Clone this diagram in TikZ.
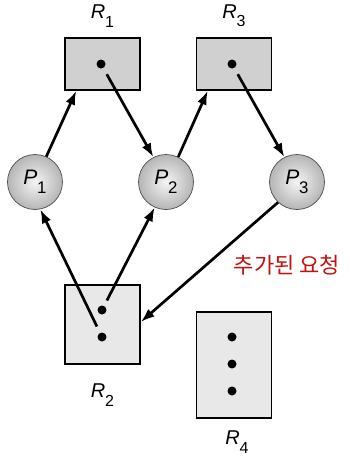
\documentclass[tikz,border=0pt]{standalone}
\usepackage{fontspec}
\setmainfont{Liberation Sans}
\newfontfamily\krfont{Noto Sans CJK KR}
\usepackage{tikz}
\usetikzlibrary{positioning,arrows.meta}
\definecolor{resdark}{HTML}{D0D0D0}
\definecolor{reslight}{HTML}{E8E8E8}
\definecolor{reqred}{HTML}{C41010}
\newcommand{\idx}[2]{{\itshape #1}\kern-0.3pt\raisebox{-0.8ex}{\scalebox{0.8}{#2}}}
\tikzset{
  res/.style={rectangle,draw,line width=1.5pt,minimum width=75pt,minimum height=52pt,
    inner sep=0pt,fill=resdark},
  inst/.style={circle,fill=black,inner sep=0pt,minimum size=9pt},
  proc/.style={circle,draw=gray!60!black,line width=0.7pt,minimum size=55pt,inner sep=0pt,
    inner color=gray!8,outer color=gray!58,font=\fontsize{21}{21}\selectfont},
  rlab/.style={font=\fontsize{20}{20}\selectfont,inner sep=0pt},
  fl/.style={-{Latex[length=14pt,width=10pt]},line width=2.7pt},
}
\begin{document}
\begin{tikzpicture}[x=1pt,y=-1pt]
  \useasboundingbox (0,0) rectangle (349,463);
  % resources
  \node[res] (R1) at (102.5,64) {};
  \node[res] (R3) at (234,64) {};
  \node[res,fill=reslight,minimum height=79pt] (R2) at (102.5,324.5) {};
  \node[res,fill=reslight,minimum height=106pt] (R4) at (234,365) {};
  \node[inst] (r1a) at (101,64) {};
  \node[inst] (r3a) at (232,64) {};
  \node[inst] (r2a) at (102,310) {};
  \node[inst] (r2b) at (102,337) {};
  \node[inst] (r4a) at (232,337) {};
  \node[inst] (r4b) at (232,364) {};
  \node[inst] (r4c) at (232,391) {};
  \node[rlab,above=10pt of R1] (lR1) {\idx{R}{1}};
  \node[rlab,above=10pt of R3] (lR3) {\idx{R}{3}};
  \node[rlab,below=19pt of R2] (lR2) {\idx{R}{2}};
  \node[rlab,below=12pt of R4,xshift=3pt] (lR4) {\idx{R}{4}};
  % processes
  \node[proc] (P1) at (35,182) {\idx{P}{1}};
  \node[proc] (P2) at (166,182) {\idx{P}{2}};
  \node[proc] (P3) at (297,182) {\idx{P}{3}};
  % edges
  \draw[fl] (P1.66) -- ([xshift=12pt]R1.south west);
  \draw[fl,shorten <=7pt] (r1a) -- (P2.117);
  \draw[fl] (P2.64) -- ([xshift=12pt]R3.south west);
  \draw[fl,shorten <=7pt] (r3a) -- (P3.117);
  \draw[fl,shorten <=7pt] (r2b) -- (P1.281);
  \draw[fl,shorten <=6pt] (r2a) -- (P2.246);
  \draw[fl] (P3.227) -- ([yshift=2.5pt]R2.east);
  \node[font=\krfont\fontsize{22}{22}\selectfont,text=reqred] (req) at (287,265) {추가된 요청};
\end{tikzpicture}
\end{document}
